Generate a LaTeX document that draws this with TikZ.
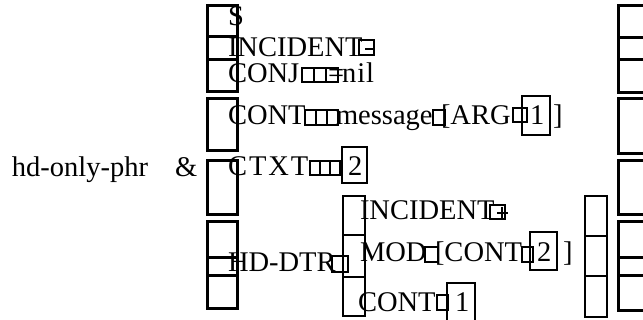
\documentclass[tikz,border=0pt]{standalone}
\usepackage{fontspec}
\setmainfont{Liberation Serif}
\begin{document}
\begin{tikzpicture}[x=1pt,y=-1pt,
  txt/.style={anchor=base west,inner sep=0pt,outer sep=0pt,font=\fontsize{28.5}{30}\selectfont},
  bigbox/.style={draw,line width=3pt},
  midbox/.style={draw,line width=2.4pt},
  smallbox/.style={draw,line width=1.7pt},
  tallbox/.style={draw,line width=2pt}]
\useasboundingbox (0,0) rectangle (643,320);
% outer left bracket
\draw[bigbox] (207,6) rectangle (237,37);
\draw[bigbox] (207,37) rectangle (237,60);
\draw[bigbox] (207,60) rectangle (237,92);
\draw[bigbox] (207,99) rectangle (237,151);
\draw[bigbox] (207,161) rectangle (237,215);
\draw[bigbox] (207,222) rectangle (237,258);
\draw[bigbox] (207,258) rectangle (237,276);
\draw[bigbox] (207,276) rectangle (237,309);
% outer right bracket
\draw[bigbox] (618,6) rectangle (648,38);
\draw[bigbox] (618,38) rectangle (648,60);
\draw[bigbox] (618,60) rectangle (648,93);
\draw[bigbox] (618,99) rectangle (648,154);
\draw[bigbox] (618,161) rectangle (648,215);
\draw[bigbox] (618,222) rectangle (648,258);
\draw[bigbox] (618,258) rectangle (648,276);
\draw[bigbox] (618,276) rectangle (648,311);
% inner brackets
\draw[midbox] (343,196) rectangle (365,235);
\draw[midbox] (343,235) rectangle (365,277);
\draw[midbox] (343,277) rectangle (365,316);
\draw[midbox] (585,196) rectangle (607,236);
\draw[midbox] (585,236) rectangle (607,276);
\draw[midbox] (585,276) rectangle (607,317);
% left label
\node[txt] (hd) at (12,177) {hd-only-phr};
\node[txt] (amp) at (175,177) {\&};
% rows
\node[txt] (s) at (228,26) {S};
\node[txt] (inc) at (228,57) {INCIDENT};
\draw[smallbox] (359,40) rectangle (374,55);
\draw[line width=1.2pt] (365,49) -- (373,49);
\node[txt] (conj) at (228,83) {CONJ};
\draw[smallbox] (302,68) rectangle (314,82);
\draw[smallbox] (314,68) rectangle (326,82);
\draw[smallbox] (326,68) rectangle (338,82);
\node[txt] (eq) at (328,83) {=};
\node[txt] (nil) at (342,83) {n\kern1pt i\kern1pt l};
\node[txt] (cont) at (228,125) {CONT};
\draw[smallbox] (305,110) rectangle (316,125);
\draw[smallbox] (316,110) rectangle (327,125);
\draw[smallbox] (327,110) rectangle (338,125);
\node[txt] (msg) at (336,125) {message};
\draw[smallbox] (433,110) rectangle (445,125);
\node[txt] (arg) at (441,125) {[ARG};
\draw[smallbox] (513,108) rectangle (527,122);
\draw[tallbox] (522,96) rectangle (550,135);
\node[txt] (one) at (530,125) {1};
\node[txt] (rb) at (553,125) {]};
\node[txt] (ctxt) at (228,176) {C\kern2pt T\kern2pt X\kern2pt T};
\draw[smallbox] (310,161) rectangle (320,175);
\draw[smallbox] (320,161) rectangle (330,175);
\draw[smallbox] (330,161) rectangle (340,175);
\draw[tallbox] (342,147) rectangle (367,183);
\node[txt] (two) at (348,176) {2};
\node[txt] (hddtr) at (228,272) {HD-DTR};
\draw[smallbox] (332,256) rectangle (348,272);
% inner rows
\node[txt] (iinc) at (360,220) {INCIDENT};
\draw[smallbox] (490,205) rectangle (505,219);
\draw[line width=1.2pt] (497,213) -- (508,213) (502,207) -- (502,219);
\node[txt] (mod) at (360,262) {MOD};
\draw[smallbox] (425,247) rectangle (438,262);
\node[txt] (mcont) at (435,262) {[CONT};
\draw[smallbox] (522,247) rectangle (533,262);
\draw[tallbox] (530,232) rectangle (557,270);
\node[txt] (mtwo) at (537,262) {2};
\node[txt] (mrb) at (563,262) {]};
\node[txt] (icont) at (358,312) {CONT};
\draw[smallbox] (437,295) rectangle (448,310);
\draw[tallbox] (447,283) rectangle (475,322);
\node[txt] (ione) at (455,312) {1};
\end{tikzpicture}
\end{document}
